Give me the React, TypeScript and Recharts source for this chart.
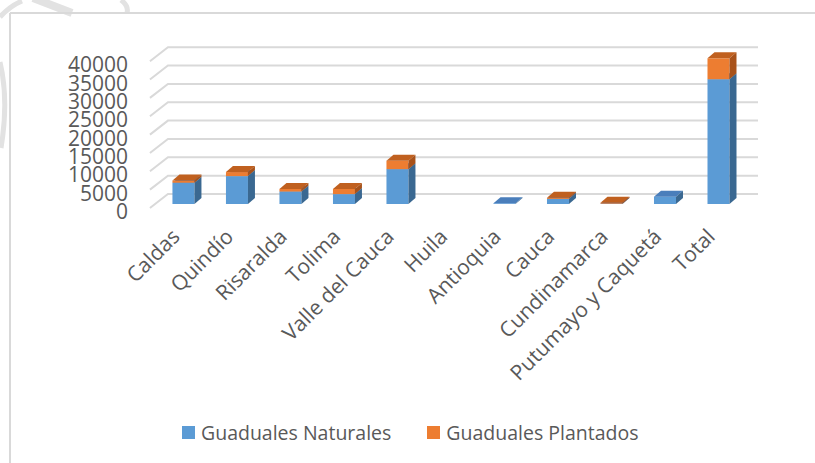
import React from 'react';
import { BarChart, Bar, XAxis, YAxis, CartesianGrid } from 'recharts';

const categories = ['Caldas', 'Quindío', 'Risaralda', 'Tolima', 'Valle del Cauca', 'Huila', 'Antioquia', 'Cauca', 'Cundinamarca', 'Putumayo y Caquetá', 'Total'];
const naturales = [5800, 7600, 3400, 2700, 9500, 0, 200, 1400, 100, 2000, 34000];
const plantados = [600, 1100, 700, 1400, 2300, 0, 0, 300, 250, 0, 5700];
const yTicks = [0, 5000, 10000, 15000, 20000, 25000, 30000, 35000, 40000];
const seriesNames = ['Guaduales Naturales', 'Guaduales Plantados'];

const data = categories.map((c, i) => ({ name: c, naturales: naturales[i], plantados: plantados[i] }));

const FONT = '"Open Sans", sans-serif';
const TXT = '#595959';
const GRID = '#d9d9d9';
const DX = 7;
const DY = 6;

const makeBox = (front: string, top: string, side: string) => (props: any) => {
  const { x, y, width, height } = props;
  if (!height || height <= 0) return null;
  return (
    <g>
      <rect x={x} y={y} width={width} height={height} fill={front} />
      <polygon points={`${x},${y} ${x + DX},${y - DY} ${x + width + DX},${y - DY} ${x + width},${y}`} fill={top} />
      <polygon points={`${x + width},${y} ${x + width + DX},${y - DY} ${x + width + DX},${y + height - DY} ${x + width},${y + height}`} fill={side} />
    </g>
  );
};

const gridLine = (p: any) => {
  const { x1, x2, y1, index } = p;
  const d = `M${x1 - 6.5},${y1 + 4} L${x1 + 11.5},${y1 - 10} L${x2 + 13},${y1 - 10}`;
  return <path key={`g${index}`} d={d} stroke={GRID} strokeWidth={2} fill="none" />;
};

const YTick = (p: any) => {
  const { y, payload } = p;
  return (
    <text x={128} y={y + 7} textAnchor="end" dominantBaseline="central" fill={TXT} fontSize={21} fontFamily={FONT}>
      {payload.value}
    </text>
  );
};

const XTick = (p: any) => {
  const { x, y, payload } = p;
  const ax = x - 2;
  const ay = y + 26;
  return (
    <text x={ax} y={ay} textAnchor="end" fill={TXT} fontSize={21} fontFamily={FONT} transform={`rotate(-45 ${ax} ${ay})`}>
      {payload.value}
    </text>
  );
};

export default function App() {
  return (
    <div style={{ position: 'absolute', left: 0, top: 0, width: 815, height: 463, background: '#fff', overflow: 'hidden' }}>
      <svg width={815} height={463} style={{ position: 'absolute', left: 0, top: 0 }}>
        <path d="M0,17 Q10,6 22,1" stroke="#e2e2e2" strokeWidth={5} fill="none" />
        <path d="M33,-2 L72,13" stroke="#e2e2e2" strokeWidth={8} fill="none" />
        <path d="M121,0 Q129,6 127,13" stroke="#e2e2e2" strokeWidth={5} fill="none" />
        <path d="M0,62 Q9,100 1,148" stroke="#e2e2e2" strokeWidth={5} fill="none" />
        <line x1={10} y1={13} x2={815} y2={13} stroke={GRID} strokeWidth={2} />
        <line x1={10} y1={13} x2={10} y2={463} stroke={GRID} strokeWidth={2} />
      </svg>
      <div style={{ position: 'absolute', left: 0, top: 0 }}>
        <BarChart width={815} height={463} data={data} margin={{ top: 57.2, right: 70, bottom: 229, left: 96.45 }}>
          <CartesianGrid vertical={false} horizontal={gridLine} />
          <XAxis dataKey="name" axisLine={false} tickLine={false} interval={0} height={30} tick={<XTick />} />
          <YAxis domain={[0, 40000]} ticks={yTicks} interval={0} axisLine={false} tickLine={false} width={60} tick={<YTick />} />
          <Bar dataKey="naturales" name={seriesNames[0]} stackId="a" barSize={22} fill="#5b9bd5" isAnimationActive={false} shape={makeBox('#5b9bd5', '#4a7ebb', '#3a6891')} />
          <Bar dataKey="plantados" name={seriesNames[1]} stackId="a" barSize={22} fill="#ed7d31" isAnimationActive={false} shape={makeBox('#ed7d31', '#c0601f', '#a8521a')} />
        </BarChart>
      </div>
      <div style={{ position: 'absolute', left: 182, top: 418, display: 'flex', alignItems: 'center', fontFamily: FONT, fontSize: 19.5, color: TXT, whiteSpace: 'nowrap', height: 28 }}>
        <span style={{ display: 'inline-block', width: 13, height: 13, background: '#5b9bd5', marginRight: 6 }} />
        <span>{seriesNames[0]}</span>
        <span style={{ display: 'inline-block', width: 13, height: 13, background: '#ed7d31', marginLeft: 36, marginRight: 6 }} />
        <span>{seriesNames[1]}</span>
      </div>
    </div>
  );
}
